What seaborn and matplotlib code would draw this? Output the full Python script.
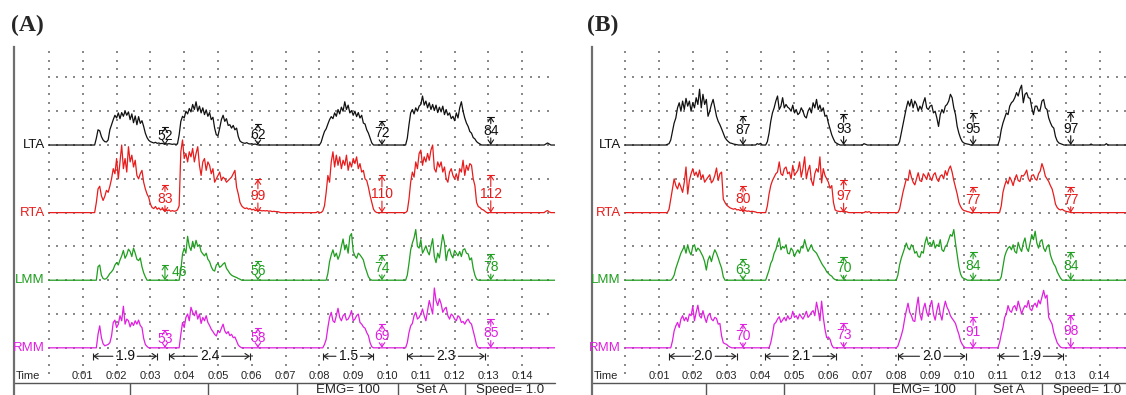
import numpy as np
import pandas as pd
import seaborn as sns
import matplotlib.pyplot as plt

DT = 0.05  # s between EMG samples, amplitudes in uV (100 uV per grid division)

CHANNELS = ["LTA", "RTA", "LMM", "RMM"]
TIME_LABELS = ["0:%02d" % s for s in range(1, 15)]
FOOTER = ["EMG= 100", "Set A", "Speed= 1.0"]

# ---- panel A: bursts as (start s, samples) ----
A_LTA = [
    (1.35, [0, 20, 45, 42, 25, 15, 10, 9, 15, 45, 60, 75, 88, 80, 95, 78, 96, 85, 100, 88, 98, 75, 92, 66, 86,
            60, 84, 64, 72, 55, 35, 22, 14, 10, 8, 6, 8, 5, 6, 4, 5, 3, 4, 3, 4, 3, 2, 3, 2, 3]),
    (3.85, [30, 70, 85, 80, 100, 92, 108, 98, 120, 105, 128, 100, 115, 95, 110, 90, 104, 85, 96, 75, 82, 50, 30,
            28, 50, 75, 88, 70, 78, 58, 60, 50, 58, 45, 50, 25, 12, 8, 6, 5, 7, 4, 3, 4, 2, 3, 1, 0]),
    (8.00, [0, 8, 25, 40, 48, 62, 75, 84, 78, 95, 85, 105, 92, 112, 100, 128, 105, 118, 95, 102, 88, 100, 84, 96,
            80, 88, 65, 62, 45, 35, 20, 6, 0]),
    (10.55, [0, 20, 60, 95, 105, 92, 110, 100, 115, 120, 145, 118, 130, 110, 125, 105, 120, 102, 118, 96, 112, 98,
             115, 90, 105, 88, 95, 78, 85, 72, 95, 80, 110, 128, 100, 80, 65, 55, 40, 35, 22, 18, 10, 6, 3, 0]),
    (14.65, [0, 3, 6, 3, 0]),
]
A_RTA = [
    (1.35, [0, 30, 70, 78, 50, 36, 48, 66, 60, 78, 100, 130, 115, 160, 100, 150, 200, 130, 160, 120, 195, 150, 170,
            135, 155, 110, 100, 115, 125, 90, 70, 55, 45, 25, 15, 12, 18, 10, 14, 8, 12, 6, 10, 5, 8, 4, 6, 4, 5, 8]),
    (3.85, [20, 180, 215, 160, 175, 150, 180, 165, 190, 150, 175, 195, 140, 110, 150, 160, 125, 150, 140, 115, 130,
            90, 100, 110, 120, 95, 105, 100, 90, 95, 100, 105, 115, 125, 75, 55, 30, 20, 15, 12, 14, 10, 12, 8, 10,
            6, 8, 6, 7, 5, 6, 5, 6, 4, 5, 3, 4, 3, 3, 2, 0]),
    (7.90, [0, 3, 0, 0, 5, 20, 60, 110, 90, 150, 180, 135, 170, 140, 165, 130, 155, 140, 170, 125, 150, 135, 160,
            145, 165, 130, 145, 120, 125, 100, 95, 75, 50, 30, 10, 3, 0]),
    (10.55, [0, 5, 40, 90, 120, 105, 150, 130, 175, 185, 140, 165, 150, 175, 155, 185, 200, 130, 120, 150, 135, 150,
             120, 135, 100, 90, 120, 130, 110, 100, 115, 95, 130, 120, 155, 110, 140, 125, 145, 140, 100, 80, 30,
             18, 15, 10, 8, 4, 0]),
    (14.65, [0, 4, 6, 2, 0]),
]
A_LMM = [
    (1.40, [0, 40, 45, 15, 5, 3, 5, 12, 20, 25, 32, 45, 52, 45, 60, 72, 88, 65, 75, 92, 85, 70, 95, 80, 62, 58, 66,
            40, 22, 10, 0]),
    (3.85, [0, 30, 78, 95, 80, 130, 100, 88, 115, 95, 118, 100, 105, 85, 78, 72, 80, 62, 55, 40, 30, 27, 45, 50,
            38, 42, 48, 52, 35, 28, 20, 15, 12, 10, 8, 5, 3, 0]),
    (8.20, [0, 20, 55, 75, 90, 70, 80, 62, 75, 100, 122, 90, 105, 80, 130, 138, 85, 72, 65, 80, 75, 68, 60, 40, 25,
            10, 3, 0]),
    (10.55, [0, 15, 50, 90, 110, 125, 150, 100, 95, 120, 80, 90, 102, 85, 75, 100, 123, 70, 52, 80, 66, 100, 135,
             110, 58, 85, 93, 75, 66, 88, 80, 72, 85, 70, 90, 93, 80, 78, 60, 66, 35, 15, 3, 0]),
]
A_RMM = [
    (1.40, [0, 40, 65, 30, 12, 6, 8, 10, 15, 35, 75, 82, 60, 70, 95, 80, 123, 70, 85, 80, 62, 75, 66, 80, 70, 82,
            66, 60, 28, 10, 4, 0]),
    (3.85, [0, 40, 75, 60, 90, 100, 80, 120, 105, 95, 110, 85, 100, 72, 90, 80, 95, 75, 66, 55, 48, 40, 35, 50, 45,
            58, 70, 50, 42, 48, 36, 40, 30, 32, 20, 8, 3, 0]),
    (8.10, [0, 10, 25, 60, 90, 105, 80, 75, 95, 117, 90, 80, 95, 100, 82, 85, 95, 110, 80, 85, 95, 100, 75, 70, 62,
            58, 45, 36, 15, 3, 0]),
    (10.55, [0, 15, 45, 65, 72, 95, 105, 85, 90, 100, 115, 95, 80, 110, 140, 120, 100, 177, 140, 125, 145, 130, 105,
             115, 120, 95, 85, 100, 95, 85, 80, 95, 90, 75, 78, 70, 80, 85, 75, 70, 50, 30, 8, 0]),
]

# ---- panel B ----
B_LTA = [
    (1.20, [0, 2, 4, 15, 40, 65, 80, 110, 125, 100, 130, 105, 138, 115, 130, 100, 125, 110, 140, 120, 165, 110, 150,
            120, 135, 85, 100, 120, 135, 110, 85, 70, 60, 48, 35, 22, 15, 10, 6, 5, 3, 2, 1, 0]),
    (3.85, [0, 4, 2, 5, 0]),
    (4.15, [0, 10, 35, 70, 95, 110, 130, 145, 105, 115, 140, 110, 120, 112, 108, 100, 118, 95, 105, 90, 95, 110, 100,
            85, 80, 100, 110, 95, 125, 110, 135, 105, 118, 100, 110, 85, 88, 65, 48, 30, 18, 8, 5, 2, 0]),
    (7.00, [0, 4, 2, 0]),
    (8.05, [0, 10, 35, 60, 85, 110, 130, 115, 135, 110, 130, 120, 100, 115, 105, 125, 140, 110, 105, 115, 118, 95,
            100, 80, 55, 90, 105, 95, 115, 120, 130, 150, 140, 110, 90, 55, 35, 20, 10, 6, 4, 3, 2, 0]),
    (11.00, [0, 15, 45, 65, 80, 95, 90, 115, 125, 130, 140, 155, 145, 165, 177, 125, 150, 155, 140, 138, 110, 90, 115,
             115, 100, 105, 130, 135, 110, 105, 80, 66, 55, 50, 25, 12, 6, 4, 2, 0]),
    (13.70, [0, 3, 0]),
    (14.15, [0, 4, 0]),
]
B_RTA = [
    (1.25, [0, 10, 40, 70, 100, 80, 70, 88, 75, 60, 90, 135, 55, 95, 115, 130, 110, 120, 105, 126, 100, 112, 90, 98,
            105, 112, 88, 95, 110, 132, 95, 115, 120, 40, 30, 22, 18, 14, 12, 10, 12, 8, 9, 6, 8, 5, 6, 4, 5, 3, 4,
            3, 2, 0]),
    (4.15, [0, 20, 55, 80, 95, 105, 115, 120, 150, 115, 110, 130, 135, 115, 120, 100, 140, 110, 118, 125, 150, 105,
            130, 165, 100, 125, 140, 95, 80, 115, 130, 120, 165, 88, 130, 110, 100, 90, 72, 80, 30, 8, 5, 4, 3, 4, 2,
            3, 2, 0]),
    (7.05, [0, 3, 1, 3, 0]),
    (8.05, [0, 10, 35, 60, 80, 100, 95, 126, 105, 90, 82, 100, 118, 95, 92, 115, 108, 98, 118, 105, 95, 112, 118,
            100, 92, 108, 112, 100, 124, 110, 128, 138, 120, 95, 75, 55, 30, 18, 10, 6, 5, 3, 2, 0]),
    (11.05, [0, 20, 60, 80, 95, 85, 105, 95, 80, 100, 112, 95, 92, 110, 108, 115, 126, 100, 92, 110, 112, 100, 96,
             115, 123, 145, 130, 108, 100, 92, 80, 70, 50, 25, 15, 10, 8, 10, 6, 4, 3, 2, 0]),
]
B_LMM = [
    (1.35, [0, 5, 15, 35, 50, 65, 80, 90, 100, 80, 105, 85, 75, 100, 105, 85, 95, 90, 80, 70, 55, 30, 60, 72, 55,
            75, 90, 80, 66, 50, 36, 10, 0]),
    (4.15, [0, 15, 30, 50, 60, 80, 90, 110, 125, 90, 100, 95, 105, 80, 78, 95, 88, 70, 82, 90, 80, 100, 95, 120,
            100, 85, 95, 105, 90, 85, 80, 70, 60, 50, 42, 35, 25, 20, 15, 12, 5, 2, 0]),
    (8.00, [0, 15, 45, 65, 80, 95, 110, 95, 90, 105, 98, 80, 85, 70, 68, 85, 80, 110, 128, 105, 112, 100, 118, 95,
            105, 100, 120, 90, 85, 100, 105, 120, 135, 130, 150, 110, 75, 40, 18, 8, 5, 3, 0]),
    (11.05, [0, 10, 40, 70, 85, 95, 100, 90, 105, 85, 80, 112, 95, 85, 110, 125, 95, 85, 110, 135, 120, 145, 110,
             95, 115, 120, 95, 85, 100, 105, 75, 60, 48, 40, 25, 15, 6, 0]),
]
B_RMM = [
    (1.35, [0, 20, 50, 65, 75, 60, 85, 95, 80, 90, 78, 100, 95, 123, 80, 105, 126, 95, 88, 110, 90, 75, 95, 102, 85,
            80, 90, 87, 70, 72, 35, 15, 12, 10, 5, 2, 0]),
    (4.25, [0, 15, 40, 70, 75, 85, 92, 75, 82, 90, 80, 95, 85, 88, 108, 90, 95, 85, 100, 92, 85, 95, 108, 90, 96,
            105, 110, 95, 135, 110, 80, 138, 90, 55, 30, 32, 25, 8, 0]),
    (8.00, [0, 5, 20, 36, 55, 85, 110, 132, 105, 95, 80, 78, 120, 150, 100, 82, 115, 132, 105, 93, 125, 140, 100, 82,
            110, 132, 100, 82, 115, 138, 120, 110, 95, 87, 80, 72, 55, 40, 20, 10, 3, 0]),
    (11.00, [0, 15, 40, 60, 90, 100, 125, 110, 105, 120, 125, 110, 138, 120, 100, 115, 125, 120, 140, 115, 110, 125,
             132, 120, 141, 130, 150, 170, 147, 156, 90, 80, 70, 45, 30, 15, 8, 2, 0]),
]

# measured amplitudes (uV) after each burst, and where they were taken (s)
A_MARK_T = [3.43, 6.18, 9.85, 13.07]
A_LTA_MARKS = [52, 62, 72, 84]
A_RTA_MARKS = [83, 99, 110, 112]
A_LMM_MARKS = [46, 56, 74, 78]
A_RMM_MARKS = [53, 58, 69, 85]
B_MARK_T = [3.48, 6.45, 10.27, 13.15]
B_LTA_MARKS = [87, 93, 95, 97]
B_RTA_MARKS = [80, 97, 77, 77]
B_LMM_MARKS = [63, 70, 84, 84]
B_RMM_MARKS = [70, 73, 91, 98]

# step durations (s)
A_DUR_START = [1.3, 3.55, 8.1, 10.6]
A_DUR = [1.9, 2.4, 1.5, 2.3]
B_DUR_START = [1.3, 4.13, 8.05, 11.03]
B_DUR = [2.0, 2.1, 2.0, 1.9]

COLORS = {"LTA": "#111111", "RTA": "#e81c1c", "LMM": "#1f9e1f", "RMM": "#e01fe0"}
OFFSET = {"LTA": 0, "RTA": -2, "LMM": -4, "RMM": -6}
DIVIDERS = [2.4, 4.7, 7.35, 10.32, 12.3]
FOOTER_X = [8.83, 11.32, 13.64]
GRAY = "#8a8a8a"
FS = 10

sns.set_style("white")
plt.rcParams["font.family"] = ["Liberation Sans", "DejaVu Sans"]


def trace_frame(bursts_by_channel, t_end):
    rows = []
    for ch, bursts in bursts_by_channel.items():
        rows.append((ch, 0.0, 0.0))
        for start, vals in bursts:
            for i, v in enumerate(vals):
                rows.append((ch, start + i * DT, v))
        rows.append((ch, t_end, 0.0))
    df = pd.DataFrame(rows, columns=["channel", "time", "uv"])
    df["level"] = df["channel"].map(OFFSET) + df["uv"] / 100.0
    return df


ARROW = "->,head_length=0.3,head_width=0.2"


def measure(ax, t, base, v, color, dx=0.0):
    top = base + v / 100.0
    mid = base + v / 200.0
    ax.plot([t - 0.1, t + 0.1], [top, top], color=color, lw=0.8)
    kw = dict(color=color, lw=0.8, shrinkA=0, shrinkB=0)
    if dx:
        ax.annotate("", xy=(t, top), xytext=(t, base),
                    arrowprops=dict(arrowstyle="<->,head_length=0.3,head_width=0.2", **kw))
        ax.text(t + dx, mid, str(v), color=color, fontsize=FS, ha="center", va="center", zorder=6)
    else:
        gap = 0.21
        ax.annotate("", xy=(t, top), xytext=(t, mid + gap), arrowprops=dict(arrowstyle=ARROW, **kw))
        ax.annotate("", xy=(t, base), xytext=(t, mid - gap), arrowprops=dict(arrowstyle=ARROW, **kw))
        ax.text(t, mid, str(v), color=color, fontsize=FS, ha="center", va="center", zorder=6)


def span(ax, t0, d, y):
    t1 = t0 + d
    mid = (t0 + t1) / 2
    kw = dict(arrowstyle=ARROW, color="#222222", lw=0.8, shrinkA=0, shrinkB=0)
    ax.annotate("", xy=(t0, y), xytext=(mid - 0.36, y), arrowprops=kw)
    ax.annotate("", xy=(t1, y), xytext=(mid + 0.36, y), arrowprops=kw)
    ax.vlines([t0, t1], y - 0.1, y + 0.1, color="#222222", lw=0.8)
    ax.text(mid, y, "%.1f" % d, fontsize=10, ha="center", va="center", color="#111111")


def draw_panel(ax, bursts, mark_t, marks, dx, dur_start, durs, xlim):
    t_end = xlim[1]
    ax.set_xlim(*xlim)
    ax.set_ylim(-7.396, 2.90)
    for s in ["top", "right", "bottom"]:
        ax.spines[s].set_visible(False)
    ax.spines["left"].set_color("#6e6e6e")
    ax.spines["left"].set_linewidth(1.6)
    ax.set_xticks([])
    ax.set_yticks([])

    # dotted grid
    vx, vy = np.meshgrid(np.arange(0, 15), np.arange(-6.75, 2.8, 0.25))
    hx, hy = np.meshgrid(np.arange(0, t_end, 0.25), np.arange(-6, 2.5, 1))
    ax.scatter(np.r_[vx.ravel(), hx.ravel()], np.r_[vy.ravel(), hy.ravel()],
               marker="s", s=1.1, color=GRAY, linewidths=0, zorder=1)

    df = trace_frame(bursts, t_end)
    sns.lineplot(data=df, x="time", y="level", hue="channel", palette=COLORS,
                 estimator=None, legend=False, lw=0.9, ax=ax, zorder=3)
    ax.set_xlabel("")
    ax.set_ylabel("")

    for ch in CHANNELS:
        ax.text(-0.12, OFFSET[ch], ch, color=COLORS[ch], fontsize=9.5, ha="right", va="center")
        for i, (t, v) in enumerate(zip(mark_t, marks[ch])):
            measure(ax, t, OFFSET[ch], v, COLORS[ch], dx.get((ch, i), 0.0))

    for t0, d in zip(dur_start, durs):
        span(ax, t0, d, -6.25)

    ax.text(xlim[0] + 0.04, -6.83, "Time", fontsize=8, ha="left", va="center")
    for s, lab in enumerate(TIME_LABELS, start=1):
        ax.text(s, -6.83, lab, fontsize=8, ha="center", va="center")

    ax.plot([xlim[0], xlim[1]], [-7.04, -7.04], color="#555555", lw=1.0, clip_on=False)
    ax.vlines(DIVIDERS, -7.45, -7.04, color="#555555", lw=1.0)
    for x, lab in zip(FOOTER_X, FOOTER):
        ax.text(x, -7.25, lab, fontsize=9.5, ha="center", va="center")


fig = plt.figure(figsize=(11.26, 3.95), dpi=100)
W, H = 1126, 395
axA = fig.add_axes([14 / W, 0, (555 - 14) / W, (395 - 47) / H])
axB = fig.add_axes([592 / W, 0, (1126 - 592) / W, (395 - 47) / H])

draw_panel(axA, {"LTA": A_LTA, "RTA": A_RTA, "LMM": A_LMM, "RMM": A_RMM}, A_MARK_T,
           {"LTA": A_LTA_MARKS, "RTA": A_RTA_MARKS, "LMM": A_LMM_MARKS, "RMM": A_RMM_MARKS},
           {("LMM", 0): 0.42}, A_DUR_START, A_DUR, (-1.036, 14.97))
draw_panel(axB, {"LTA": B_LTA, "RTA": B_RTA, "LMM": B_LMM, "RMM": B_RMM}, B_MARK_T,
           {"LTA": B_LTA_MARKS, "RTA": B_RTA_MARKS, "LMM": B_LMM_MARKS, "RMM": B_RMM_MARKS},
           {}, B_DUR_START, B_DUR, (-0.973, 14.78))

for x, lab in [(11, "(A)"), (587, "(B)")]:
    fig.text(x / W, 1 - 25 / H, lab, fontsize=17, fontweight="bold", ha="left", va="center",
             family=["Liberation Serif", "DejaVu Serif"])

fig.savefig("out.png", dpi=100)
